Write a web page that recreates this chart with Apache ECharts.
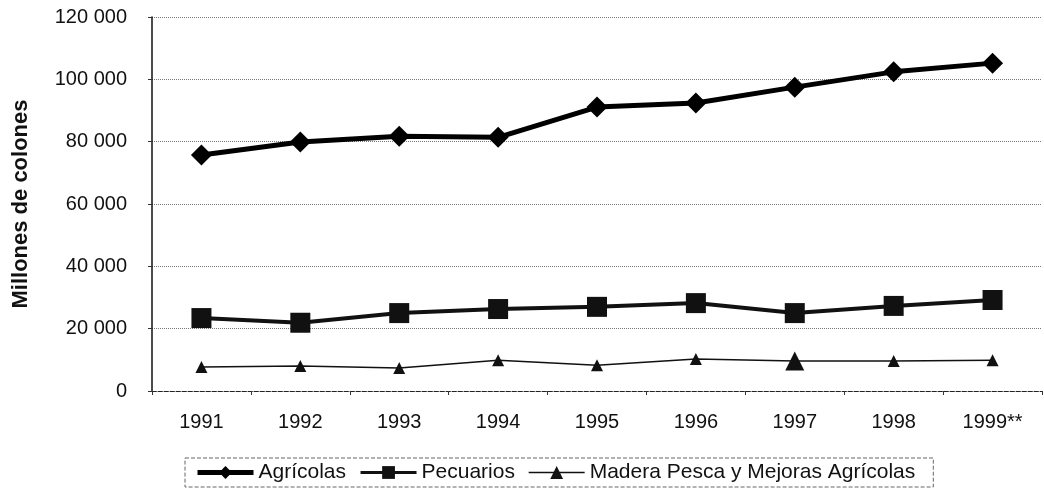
<!DOCTYPE html>
<html>
<head>
<meta charset="utf-8">
<script src="https://cdn.jsdelivr.net/npm/echarts@6/dist/echarts.min.js"></script>
<style>
  html, body { margin: 0; padding: 0; background: #fff; }
  #chart { width: 1044px; height: 494px; }
</style>
</head>
<body>
<div id="chart"></div>
<script>
// años
var years = ['1991', '1992', '1993', '1994', '1995', '1996', '1997', '1998', '1999**'];

// millones de colones
var agricolas = [75700, 79900, 81700, 81400, 91100, 92400, 97500, 102400, 105200];
var pecuarios = [23400, 21900, 25000, 26300, 27000, 28200, 25000, 27300, 29200];
var madera = [7700, 8000, 7400, 9900, 8300, 10300, 9600, 9600, 9900];

var yTicks = [0, 20000, 40000, 60000, 80000, 100000, 120000];

function fmtMiles(v) {
    return String(v).replace(/\B(?=(\d{3})+(?!\d))/g, ' ');
}

var chart = echarts.init(document.getElementById('chart'));

var option = {
    animation: false,
    textStyle: { fontFamily: 'Liberation Sans, Arial, sans-serif' },
    grid: {
        left: 152,
        right: 2,
        top: 17,
        bottom: 103
    },
    legend: {
        left: 185,
        top: 458,
        itemGap: 13,
        itemWidth: 56,
        itemHeight: 16,
        padding: [4, 18, 4, 10],
        borderColor: '#666',
        borderWidth: 1,
        borderType: 'dashed',
        textStyle: { fontSize: 21, color: '#111', fontFamily: 'Liberation Sans, Arial, sans-serif' },
        data: [
            { name: 'Agrícolas', lineStyle: { width: 5 } },
            { name: 'Pecuarios', lineStyle: { width: 3 } },
            { name: 'Madera Pesca y Mejoras Agrícolas', lineStyle: { width: 1.5 } }
        ]
    },
    xAxis: {
        type: 'category',
        data: years,
        boundaryGap: true,
        axisLine: { lineStyle: { color: '#222', type: 'dashed', width: 1 } },
        axisTick: { show: true, length: 4, lineStyle: { color: '#333' } },
        axisLabel: { fontSize: 20, color: '#111', margin: 21 }
    },
    yAxis: {
        type: 'value',
        min: yTicks[0],
        max: yTicks[yTicks.length - 1],
        interval: 20000,
        name: 'Millones de colones',
        nameLocation: 'middle',
        nameGap: 120,
        nameRotate: 90,
        nameTextStyle: { fontSize: 22, fontWeight: 'bold', color: '#111' },
        axisLine: { show: true, lineStyle: { color: '#111', width: 1.5 } },
        axisTick: { show: true, length: 4, lineStyle: { color: '#333' } },
        axisLabel: {
            fontSize: 20,
            color: '#111',
            margin: 25,
            formatter: function (v) { return fmtMiles(v); }
        },
        splitLine: { show: true, lineStyle: { color: '#777', type: 'dotted', width: 1 } }
    },
    series: [
        {
            name: 'Agrícolas',
            type: 'line',
            data: agricolas,
            symbol: 'diamond',
            symbolSize: 21,
            itemStyle: { color: '#000' },
            lineStyle: { color: '#000', width: 5 }
        },
        {
            name: 'Pecuarios',
            type: 'line',
            data: pecuarios,
            symbol: 'rect',
            symbolSize: 20,
            itemStyle: { color: '#111' },
            lineStyle: { color: '#111', width: 4 }
        },
        {
            name: 'Madera Pesca y Mejoras Agrícolas',
            type: 'line',
            data: madera,
            symbol: 'triangle',
            symbolSize: function (v, p) { return p.dataIndex === 6 ? 19 : 12; },
            itemStyle: { color: '#111' },
            lineStyle: { color: '#111', width: 1.5 }
        }
    ]
};

chart.setOption(option);
</script>
</body>
</html>
